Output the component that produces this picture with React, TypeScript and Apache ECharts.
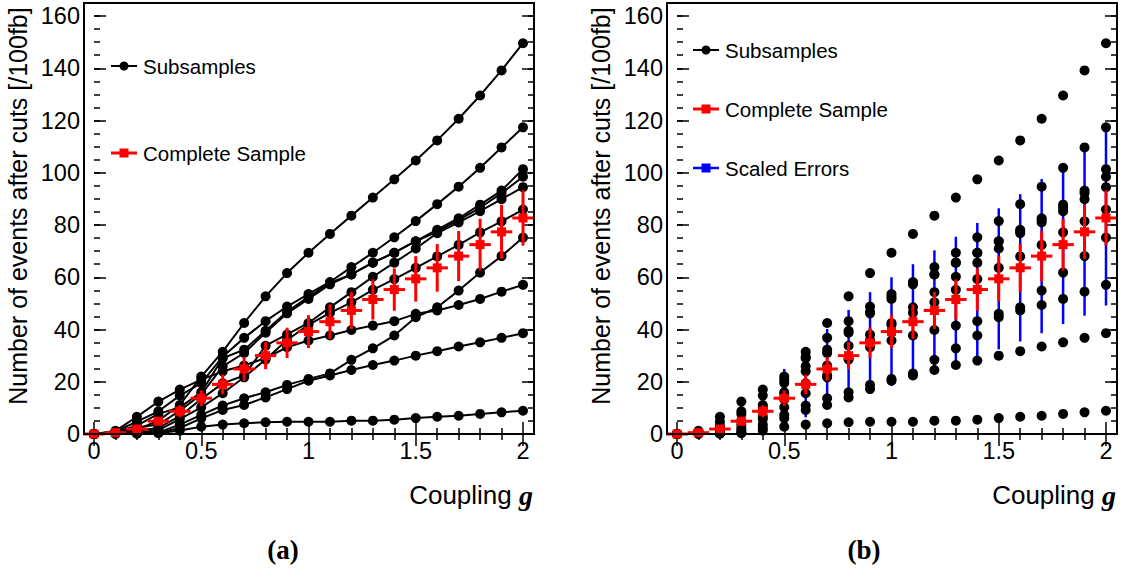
import React, { useEffect, useRef } from 'react';
import * as echarts from 'echarts';

// ---- data ----
const couplingG = [0, 0.1, 0.2, 0.3, 0.4, 0.5, 0.6, 0.7, 0.8, 0.9, 1.0, 1.1, 1.2, 1.3, 1.4, 1.5, 1.6, 1.7, 1.8, 1.9, 2.0];

const subA = [0, 0.5, 1.7, 5.1, 11.1, 22.0, 31.5, 42.5, 52.7, 61.6, 69.4, 76.6, 83.6, 90.5, 97.5, 104.7, 112.4, 120.7, 129.6, 139.2, 149.6];
const subB = [0, 1.0, 4.7, 8.7, 14.7, 19.5, 29.6, 36.8, 43.2, 48.8, 53.6, 58.2, 63.9, 69.4, 75.3, 81.5, 88.0, 94.7, 101.9, 109.7, 117.4];
const subC = [0, 0.8, 3.2, 7.7, 10.2, 16.0, 29.0, 32.3, 39.5, 46.8, 52.5, 57.8, 61.1, 65.6, 69.4, 73.8, 78.2, 82.6, 87.8, 93.2, 101.4];
const subD = [0, 0.6, 2.5, 3.6, 8.9, 15.1, 25.9, 31.0, 38.8, 46.2, 51.7, 57.3, 61.1, 65.6, 69.4, 73.8, 77.5, 82.0, 86.6, 92.2, 98.5];
const subE = [0, 0.4, 1.2, 2.3, 6.8, 13.4, 19.4, 22.4, 33.8, 38.1, 42.5, 48.5, 54.3, 60.2, 65.6, 71.0, 76.9, 81.0, 85.3, 89.9, 94.5];
const subF = [0, 0.3, 0.4, 1.5, 5.7, 10.2, 15.6, 21.7, 28.5, 36.0, 41.8, 46.4, 50.4, 55.2, 59.3, 63.6, 68.0, 72.4, 77.2, 81.4, 85.9];
const subG = [0, 0.2, 0.3, 0.6, 3.6, 7.3, 10.9, 13.7, 16.0, 18.8, 21.1, 23.2, 28.4, 32.8, 37.7, 44.7, 48.5, 54.9, 61.8, 68.1, 75.2];
const subH = [0, 1.2, 6.6, 12.4, 17.0, 20.8, 24.0, 26.2, 29.1, 33.2, 35.8, 37.7, 39.8, 41.5, 43.2, 46.0, 47.3, 49.4, 51.7, 54.5, 57.1];
const subI = [0, 0.1, 0.2, 0.5, 2.3, 6.0, 9.2, 11.1, 14.0, 17.2, 20.4, 22.4, 24.5, 26.4, 28.1, 30.0, 31.7, 33.5, 35.1, 36.8, 38.6];
const subJ = [0, 0, 0.1, 0.3, 1.3, 2.8, 3.6, 4.1, 4.5, 4.7, 4.7, 4.7, 5.1, 5.1, 5.5, 6.1, 6.6, 7.0, 7.7, 8.3, 8.9];
const subsamples = [subA, subB, subC, subD, subE, subF, subG, subH, subI, subJ];

const completeSample = [0, 0.5, 1.9, 4.9, 8.7, 13.7, 19.0, 24.9, 30.0, 34.9, 39.2, 43.0, 47.3, 51.5, 55.3, 59.4, 63.6, 68.1, 72.5, 77.4, 82.7];
const completeErr = [0, 0.4, 1.0, 1.6, 2.3, 3.0, 3.8, 4.5, 5.2, 5.8, 6.3, 6.6, 7.1, 7.7, 8.1, 8.7, 9.1, 9.6, 9.9, 10.3, 10.6];
const scaledErr = [0, 1.5, 3.5, 6.0, 8.7, 11.2, 12.6, 15.3, 17.5, 19.4, 20.8, 22.0, 23.0, 24.0, 25.5, 27.0, 28.2, 29.5, 30.4, 32.1, 33.5];

const yMax = 165;
const xBinHalfWidth = 0.05;

const SANS = '"Liberation Sans", Arial, Helvetica, sans-serif';
const SERIF = '"Liberation Serif", "Times New Roman", serif';

function makeXAxes(gridIndex: number) {
  const base: any = {
    type: 'value', gridIndex, min: 0, max: 2, interval: 0.5,
    axisLine: { show: false }, splitLine: { show: false },
    axisTick: { inside: true, length: 12, lineStyle: { color: '#000', width: 1.5 } },
    minorTick: { show: true, splitNumber: 5, length: 6, lineStyle: { color: '#000', width: 1.5 } },
  };
  return [
    { ...base, position: 'bottom', axisLabel: { show: true, color: '#000', fontSize: 23.5, fontFamily: SANS, margin: 5 } },
    { ...base, position: 'top', axisLabel: { show: false } },
  ];
}

function makeYAxes(gridIndex: number) {
  const base: any = {
    type: 'value', gridIndex, min: 0, max: yMax,
    axisLine: { show: false }, splitLine: { show: false }, minorTick: { show: false },
  };
  const major = { inside: true, length: 12, lineStyle: { color: '#000', width: 1.5 } };
  const minor = { inside: true, length: 6, lineStyle: { color: '#000', width: 1.5 } };
  return [
    {
      ...base, position: 'left', offset: 10, interval: 20, axisTick: major,
      axisLabel: {
        show: true, color: '#000', fontSize: 23.5, fontFamily: SANS, margin: 4,
        formatter: (v: number) => (v > 160 ? '' : String(v)),
      },
      name: 'Number of events after cuts [/100fb]', nameLocation: 'middle', nameGap: 54, nameRotate: 90,
      nameTextStyle: { color: '#000', fontSize: 25, fontFamily: SANS, padding: [0, 0, 0, 25] },
    },
    { ...base, position: 'left', offset: 10, interval: 5, axisTick: minor, axisLabel: { show: false } },
    { ...base, position: 'right', offset: 11, interval: 20, axisTick: major, axisLabel: { show: false } },
    { ...base, position: 'right', offset: 11, interval: 5, axisTick: minor, axisLabel: { show: false } },
  ];
}

function errorBarSeries(xAxisIndex: number, yAxisIndex: number, errs: number[], color: string, withMarker: boolean, lw: number, z: number) {
  return {
    type: 'custom', xAxisIndex, yAxisIndex, z, clip: false, silent: true,
    data: couplingG.map((g, i) => [g, completeSample[i], errs[i]]),
    encode: { x: 0, y: 1 },
    renderItem: (_p: any, api: any) => {
      const x = api.value(0), y = api.value(1), e = api.value(2);
      const c = api.coord([x, y]);
      const top = api.coord([x, y + e]);
      const bot = api.coord([x, Math.max(0, y - e)]);
      const children: any[] = [
        { type: 'line', shape: { x1: c[0], y1: top[1], x2: c[0], y2: bot[1] }, style: { stroke: color, lineWidth: lw } },
      ];
      if (withMarker) {
        const l = api.coord([x - xBinHalfWidth, y]);
        const r = api.coord([x + xBinHalfWidth, y]);
        children.push({ type: 'line', shape: { x1: l[0], y1: c[1], x2: r[0], y2: c[1] }, style: { stroke: color, lineWidth: 3 } });
        children.push({ type: 'rect', shape: { x: c[0] - 4.5, y: c[1] - 4.5, width: 9, height: 9 }, style: { fill: color } });
      }
      return { type: 'group', children };
    },
  };
}

function legendItem(x: number, y: number, color: string, marker: 'circle' | 'square', label: string, lw: number) {
  const mid = x + 13;
  return [
    { type: 'line', shape: { x1: x, y1: y, x2: x + 26, y2: y }, style: { stroke: color, lineWidth: lw } },
    marker === 'circle'
      ? { type: 'circle', shape: { cx: mid, cy: y, r: 4.5 }, style: { fill: color } }
      : { type: 'rect', shape: { x: mid - 4.5, y: y - 4.5, width: 9, height: 9 }, style: { fill: color } },
    { type: 'text', x: x + 32, y, style: { text: label, fill: '#000', font: `20.5px ${SANS}`, verticalAlign: 'middle', align: 'left' } },
  ];
}

function xTitle(right: number) {
  return {
    type: 'text', x: right, y: 495,
    style: {
      text: 'Coupling {g|g}', fill: '#000', font: `26px ${SANS}`, align: 'right', verticalAlign: 'middle',
      rich: { g: { fontFamily: SERIF, fontWeight: 'bold', fontStyle: 'italic', fontSize: 28, fill: '#000' } },
    },
  };
}

export default function App() {
  const ref = useRef<HTMLDivElement>(null);
  useEffect(() => {
    if (!ref.current) return;
    const chart = echarts.init(ref.current, undefined, { renderer: 'svg' });
    const leftLines = subsamples.map((arr) => ({
      type: 'line', name: 'Subsamples', xAxisIndex: 0, yAxisIndex: 0, z: 2, clip: false, silent: true,
      data: couplingG.map((g, i) => [g, arr[i]]),
      symbol: 'circle', symbolSize: 10, showSymbol: true,
      lineStyle: { color: '#000', width: 2 }, itemStyle: { color: '#000', opacity: 1 },
    }));
    const rightDots = subsamples.map((arr) => ({
      type: 'scatter', name: 'Subsamples', xAxisIndex: 2, yAxisIndex: 4, z: 3, clip: false, silent: true,
      data: couplingG.map((g, i) => [g, arr[i]]),
      symbol: 'circle', symbolSize: 10, itemStyle: { color: '#000', opacity: 1 },
    }));
    const option: any = {
      animation: false,
      backgroundColor: '#fff',
      grid: [
        { left: 94, top: 3, width: 429, height: 431, outerBoundsMode: 'none', containLabel: false },
        { left: 677, top: 3, width: 429, height: 431, outerBoundsMode: 'none', containLabel: false },
      ],
      xAxis: [...makeXAxes(0), ...makeXAxes(1)],
      yAxis: [...makeYAxes(0), ...makeYAxes(1)],
      series: [
        ...leftLines,
        errorBarSeries(0, 0, completeErr, '#ff0000', true, 3, 4),
        errorBarSeries(2, 4, scaledErr, '#0000ff', false, 2.5, 1),
        ...rightDots,
        errorBarSeries(2, 4, completeErr, '#ff0000', true, 3, 4),
      ],
      graphic: [
        { type: 'rect', shape: { x: 84, y: 3, width: 450, height: 431 }, style: { fill: 'none', stroke: '#000', lineWidth: 2 }, z: 10 },
        { type: 'rect', shape: { x: 667, y: 3, width: 450, height: 431 }, style: { fill: 'none', stroke: '#000', lineWidth: 2 }, z: 10 },
        ...legendItem(111, 66, '#000', 'circle', 'Subsamples', 2),
        ...legendItem(111, 153, '#ff0000', 'square', 'Complete Sample', 3),
        ...legendItem(693, 50, '#000', 'circle', 'Subsamples', 2),
        ...legendItem(693, 109, '#ff0000', 'square', 'Complete Sample', 3),
        ...legendItem(693, 168, '#0000ff', 'square', 'Scaled Errors', 2.5),
        xTitle(533),
        xTitle(1116),
        { type: 'text', x: 283, y: 550, style: { text: '(a)', fill: '#000', font: `bold 27px ${SERIF}`, align: 'center', verticalAlign: 'middle' } },
        { type: 'text', x: 864, y: 550, style: { text: '(b)', fill: '#000', font: `bold 27px ${SERIF}`, align: 'center', verticalAlign: 'middle' } },
      ],
    };
    chart.setOption(option);
    return () => chart.dispose();
  }, []);
  return <div ref={ref} style={{ position: 'absolute', left: 0, top: 0, width: 1123, height: 570, background: '#fff' }} />;
}
